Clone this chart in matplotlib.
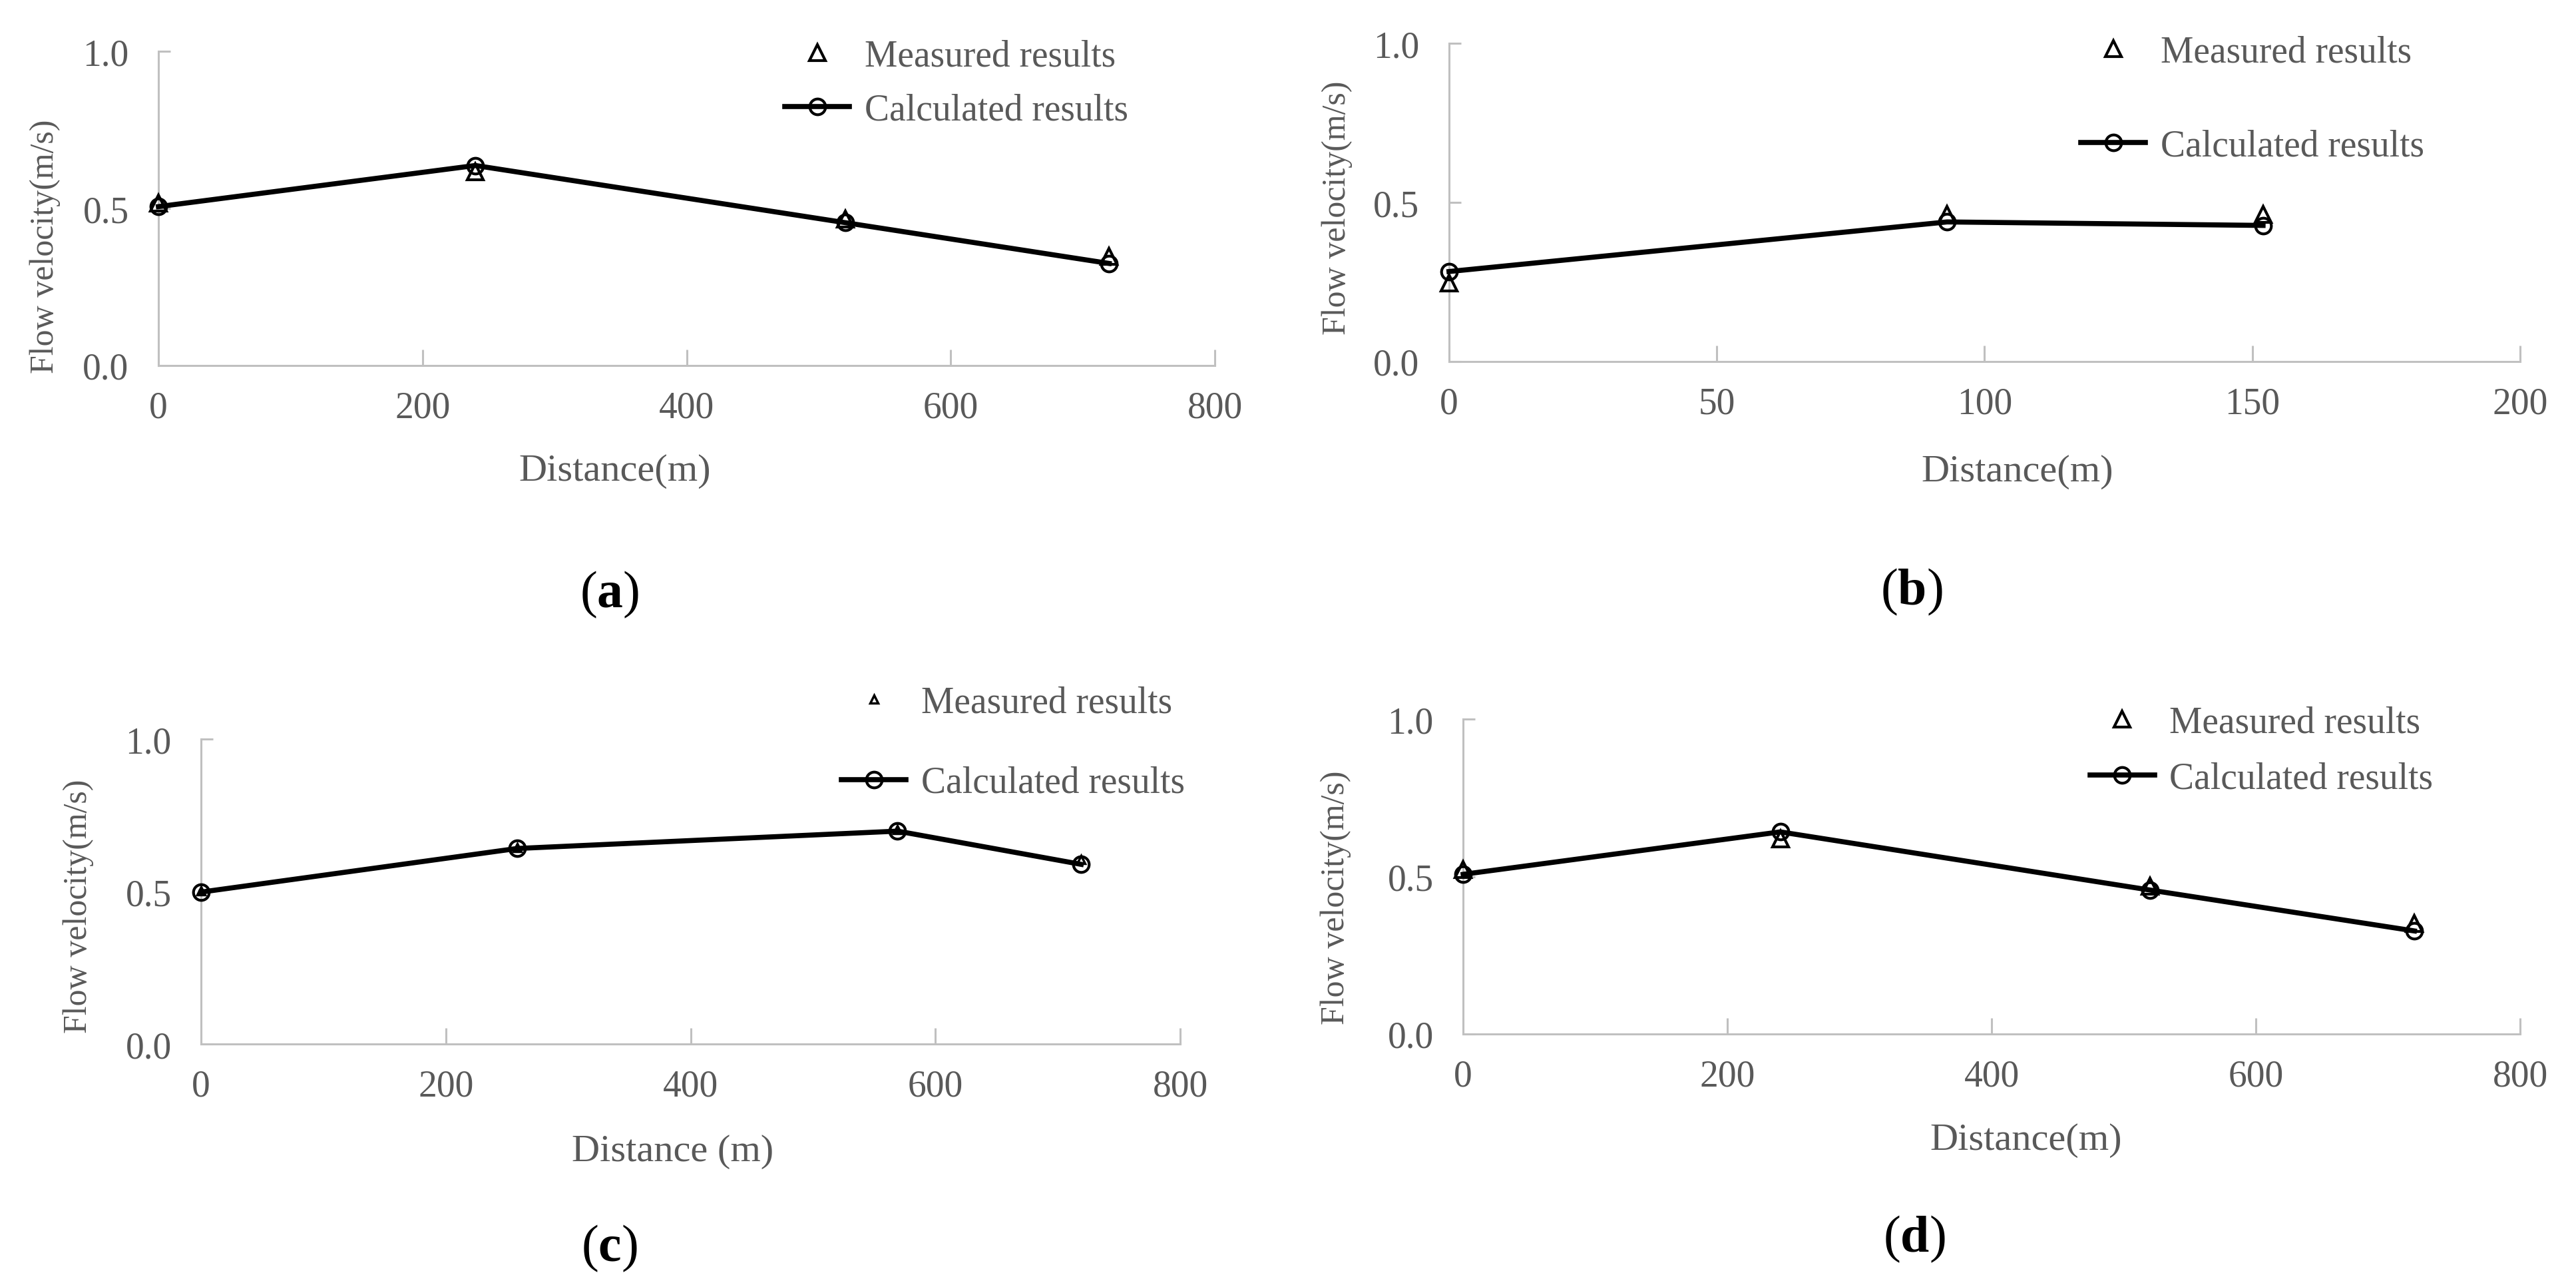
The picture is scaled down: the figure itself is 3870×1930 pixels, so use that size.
import matplotlib
matplotlib.use("Agg")
import matplotlib.pyplot as plt
from matplotlib.ticker import FormatStrFormatter

plt.rcParams['font.family'] = ['Liberation Serif', 'DejaVu Serif']
plt.rcParams['mathtext.fontset'] = 'custom'
plt.rcParams['mathtext.rm'] = 'Liberation Serif'
plt.rcParams['mathtext.bf'] = 'Liberation Serif:bold'

# ---- data ----
a_dist = [0, 240, 520, 720]
a_calc = [0.506, 0.637, 0.455, 0.325]
a_meas = [0.517, 0.618, 0.466, 0.347]

b_dist = [0, 93, 152]
b_calc = [0.283, 0.439, 0.428]
b_meas = [0.246, 0.463, 0.463]

c_dist = [0, 258, 569, 719]
c_calc = [0.499, 0.642, 0.699, 0.590]
c_meas = [0.502, 0.645, 0.705, 0.605]

d_dist = [0, 240, 520, 720]
d_calc = [0.507, 0.642, 0.457, 0.327]
d_meas = [0.523, 0.619, 0.470, 0.351]

x_ticks_long = [0, 200, 400, 600, 800]
x_ticks_short = [0, 50, 100, 150, 200]
y_ticks = [0.0, 0.5, 1.0]

TXT = '#595959'
GRID = '#c0c0c0'
FS = 40

fig = plt.figure(figsize=(38.7, 19.31), dpi=100)

panels = [
    # axes rect, data, ticks, label positions (figure coords), legend anchor (axes coords)
    dict(rect=[0.0615, 0.7152, 0.4101, 0.2442], x=a_dist, calc=a_calc, meas=a_meas,
         xt=x_ticks_long, xl='Distance(m)', xlp=(0.2386, 0.6333), ylp=(0.0176, 0.8084),
         tag='a', tp=(0.2367, 0.5375), leg=(0.593, 0.8995), ls=0.52, tri=17, tw=3),
    dict(rect=[0.5625, 0.7183, 0.4158, 0.2473], x=b_dist, calc=b_calc, meas=b_meas,
         xt=x_ticks_short, xl='Distance(m)', xlp=(0.7832, 0.6330), ylp=(0.5191, 0.8384),
         tag='b', tp=(0.7420, 0.5395), leg=(0.590, 0.825), ls=1.59, tri=17, tw=3),
    dict(rect=[0.0781, 0.1873, 0.3801, 0.2371], x=c_dist, calc=c_calc, meas=c_meas,
         xt=x_ticks_long, xl='Distance (m)', xlp=(0.2612, 0.1040), ylp=(0.0303, 0.2952),
         tag='c', tp=(0.2366, 0.0290), leg=(0.654, 0.989), ls=1.24, tri=9, tw=2.5),
    dict(rect=[0.5680, 0.1954, 0.4103, 0.2446], x=d_dist, calc=d_calc, meas=d_meas,
         xt=x_ticks_long, xl='Distance(m)', xlp=(0.7864, 0.1129), ylp=(0.5185, 0.3017),
         tag='d', tp=(0.7430, 0.0360), leg=(0.593, 0.9005), ls=0.57, tri=17, tw=3),
]

for p in panels:
    ax = fig.add_axes(p['rect'])
    meas, = ax.plot(p['x'], p['meas'], linestyle='none', marker='^', markersize=p['tri'],
                    markerfacecolor='none', markeredgecolor='black', markeredgewidth=p['tw'],
                    clip_on=False, zorder=3, label='Measured results')
    calc, = ax.plot(p['x'], p['calc'], color='black', linewidth=5.5, marker='o',
                    markersize=17, markerfacecolor='none', markeredgecolor='black',
                    markeredgewidth=3, clip_on=False, zorder=4, label='Calculated results')

    ax.set_xlim(p['xt'][0], p['xt'][-1])
    ax.set_ylim(0, 1)
    ax.set_xticks(p['xt'])
    ax.set_yticks(y_ticks)
    ax.yaxis.set_major_formatter(FormatStrFormatter('%.1f'))

    for s in ['top', 'right']:
        ax.spines[s].set_visible(False)
    for s in ['left', 'bottom']:
        ax.spines[s].set_color(GRID)
        ax.spines[s].set_linewidth(2.2)
    ax.tick_params(axis='x', direction='in', length=17, width=2.2, color=GRID,
                   labelsize=FS, labelcolor=TXT, pad=27)
    ax.tick_params(axis='y', direction='in', length=13, width=2.2, color=GRID,
                   labelsize=FS, labelcolor=TXT, pad=32)

    ax.legend(handles=[meas, calc], loc='center left', bbox_to_anchor=p['leg'],
              frameon=False, fontsize=FS, labelcolor=TXT, numpoints=1,
              handlelength=1.75, handletextpad=0.4, labelspacing=p['ls'],
              borderpad=0, borderaxespad=0)

    fig.text(p['xlp'][0], p['xlp'][1], p['xl'], fontsize=42, color=TXT,
             ha='center', va='center')
    fig.text(p['ylp'][0], p['ylp'][1], 'Flow velocity(m/s)', fontsize=36, color=TXT,
             ha='center', va='center', rotation=90)
    fig.text(p['tp'][0], p['tp'][1], r'($\mathbf{%s}$)' % p['tag'], fontsize=56,
             color='black', ha='center', va='center')

fig.savefig('out.png', dpi=100, facecolor='white')
plt.close(fig)
